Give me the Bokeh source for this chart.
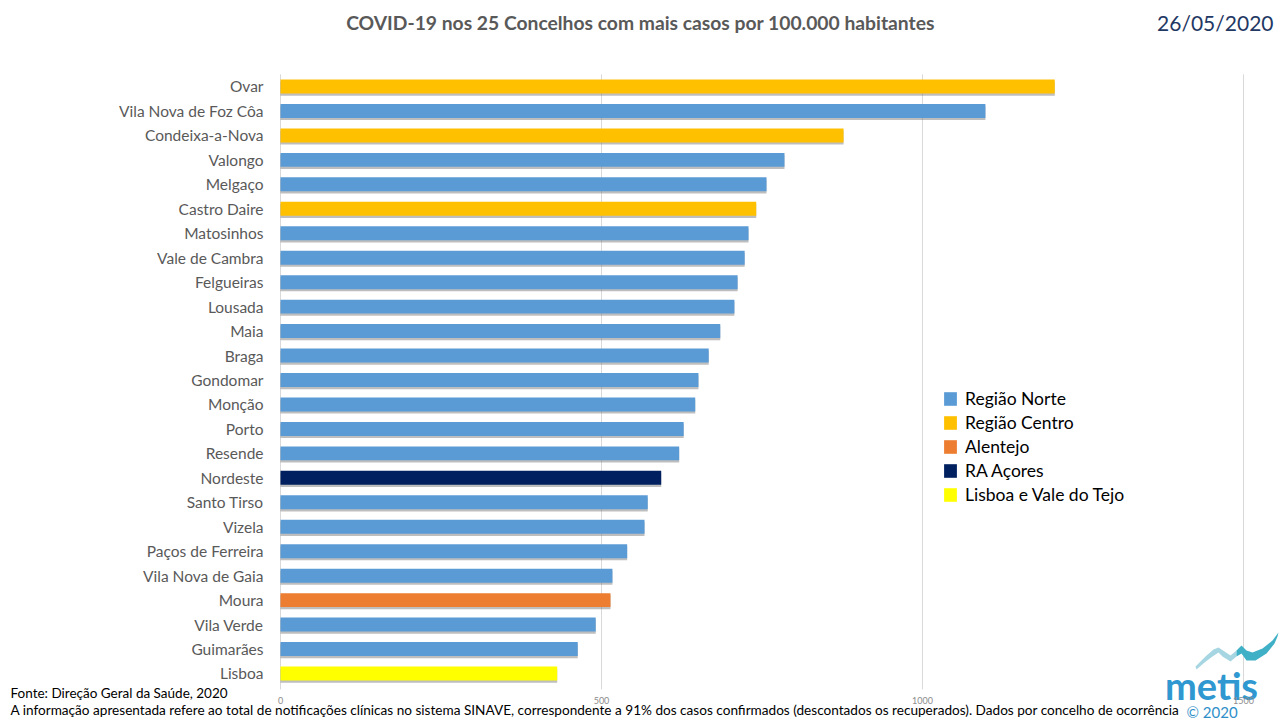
from bokeh.plotting import figure
from bokeh.models import (ColumnDataSource, CDSView, GroupFilter, Range1d, Legend, LegendItem,
                          Label, PolyAnnotation)
from bokeh.core.properties import value
from bokeh.transform import dodge
from bokeh.embed import file_html
from bokeh.resources import INLINE

names = ["Ovar", "Vila Nova de Foz Côa", "Condeixa-a-Nova", "Valongo", "Melgaço", "Castro Daire",
         "Matosinhos", "Vale de Cambra", "Felgueiras", "Lousada", "Maia", "Braga", "Gondomar",
         "Monção", "Porto", "Resende", "Nordeste", "Santo Tirso", "Vizela", "Paços de Ferreira",
         "Vila Nova de Gaia", "Moura", "Vila Verde", "Guimarães", "Lisboa"]
values = [1206, 1098, 877, 785, 757, 741, 729, 723, 712, 707, 685, 667, 651, 646, 628, 621,
          593, 572, 567, 540, 517, 514, 491, 463, 431]
N, C, A, AZ, L = "Região Norte", "Região Centro", "Alentejo", "RA Açores", "Lisboa e Vale do Tejo"
regions = [C, N, C, N, N, C, N, N, N, N, N, N, N, N, N, N, AZ, N, N, N, N, A, N, N, L]
region_order = [N, C, A, AZ, L]
region_colors = ["#5B9BD5", "#FFC000", "#ED7D31", "#002060", "#FFFF00"]
x_ticks = [0, 500, 1000, 1500]
x_tick_labels = ["0", "500", "1000", "1500"]

FONT = "Lato"
n = len(names)
ypos = [n - 1 - i for i in range(n)]  # rank order, top to bottom

src = ColumnDataSource(dict(name=names, value=values, region=regions, ypos=ypos))

p = figure(width=1280, height=720, output_backend="svg", toolbar_location=None,
           x_range=Range1d(-436.14, 1557.63), y_range=Range1d(-1.922, 27.516),
           x_axis_location=None, y_axis_location=None,
           min_border=0, min_border_left=0, min_border_right=0, min_border_top=0, min_border_bottom=0)
p.outline_line_color = None
p.background_fill_color = "white"
p.border_fill_color = "white"
p.xgrid.grid_line_color = None
p.ygrid.grid_line_color = None

# vertical grid lines
grid_src = ColumnDataSource(dict(x=x_ticks, y0=[n - 0.5] * len(x_ticks), y1=[-0.65] * len(x_ticks)))
p.segment(x0="x", x1="x", y0="y0", y1="y1", source=grid_src, line_color="#D9D9D9", line_width=1)

# shadow
p.hbar(y=dodge("ypos", -0.09), left=0, right="value", height=0.57,
       source=src, fill_color="#6F6F6F", fill_alpha=0.45, line_color=None)

items = []
for reg, col in zip(region_order, region_colors):
    view = CDSView(filter=GroupFilter(column_name="region", group=reg))
    r = p.hbar(y="ypos", left=0, right="value", height=0.57, source=src, view=view,
               fill_color=col, line_color=None)
    items.append(LegendItem(label=reg, renderers=[r]))

# category labels
p.text(x=0, y="ypos", text="name", source=src, x_offset=-17, text_font=value(FONT),
       text_font_size="15.5px", text_color="#595959", text_align="right", text_baseline="middle")

legend = Legend(items=items, location=(942, 215), glyph_width=16, glyph_height=17,
                label_text_font=FONT, label_text_font_size="17.5px", label_text_color="#000000",
                label_height=19, spacing=3, padding=0, margin=0, border_line_color=None,
                background_fill_alpha=0, label_standoff=7)
p.add_layout(legend, "center")

H = 720
p.add_layout(Label(x=640, y=H - 22, x_units="screen", y_units="screen",
                   text="COVID-19 nos 25 Concelhos com mais casos por 100.000 habitantes",
                   text_font=FONT, text_font_style="bold", text_font_size="19.3px",
                   text_color="#595959", text_align="center", text_baseline="middle"))
p.add_layout(Label(x=1273, y=H - 22, x_units="screen", y_units="screen", text="26/05/2020",
                   text_font=FONT, text_font_size="21px", text_color="#1F3864",
                   text_align="right", text_baseline="middle"))
p.add_layout(Label(x=10, y=H - 692, x_units="screen", y_units="screen",
                   text="Fonte: Direção Geral da Saúde, 2020",
                   text_font=FONT, text_font_size="13.5px", text_color="#000000",
                   text_align="left", text_baseline="middle"))
p.add_layout(Label(x=10, y=H - 709, x_units="screen", y_units="screen",
                   text="A informação apresentada refere ao total de notificações clínicas no sistema SINAVE, "
                        "correspondente a 91% dos casos confirmados (descontados os recuperados). "
                        "Dados por concelho de ocorrência",
                   text_font=FONT, text_font_size="13.6px", text_color="#000000",
                   text_align="left", text_baseline="middle"))
# logo
p.add_layout(Label(x=1211, y=H - 684, x_units="screen", y_units="screen", text="metis",
                   text_font=FONT, text_font_style="bold", text_font_size="38px", text_color="#2F98D0",
                   text_align="center", text_baseline="middle"))
p.add_layout(Label(x=1186, y=H - 711, x_units="screen", y_units="screen", text="© 2020",
                   text_font=FONT, text_font_size="15px", text_color="#2E8FC8",
                   text_align="left", text_baseline="middle"))
left_wave = [(1195, 666), (1205, 656), (1213, 649), (1218, 647), (1224, 651), (1230, 655), (1236, 650),
             (1236, 656), (1230, 661), (1222, 656), (1218, 652), (1212, 656), (1204, 662), (1196, 669)]
right_wave = [(1236, 650), (1241, 645), (1246, 650), (1252, 652), (1262, 648), (1272, 640), (1278, 632),
              (1277, 636), (1274, 643), (1266, 653), (1255, 660), (1246, 660), (1241, 653), (1236, 656)]
for pts, col in ((left_wave, "#A6D6E2"), (right_wave, "#3FB0C6")):
    p.add_layout(PolyAnnotation(xs=[a for a, b in pts], ys=[H - b for a, b in pts],
                                xs_units="screen", ys_units="screen",
                                fill_color=col, fill_alpha=1.0, line_color=None))

# axis tick labels (drawn on top, as in the reference)
for t, lab in zip(x_ticks, x_tick_labels):
    p.add_layout(Label(x=t, y=-1.1, text=lab, text_font=FONT, text_font_size="9px",
                       text_color="#8C8C8C", text_align="center", text_baseline="middle"))

open("out.html", "w").write(file_html(p, INLINE))
